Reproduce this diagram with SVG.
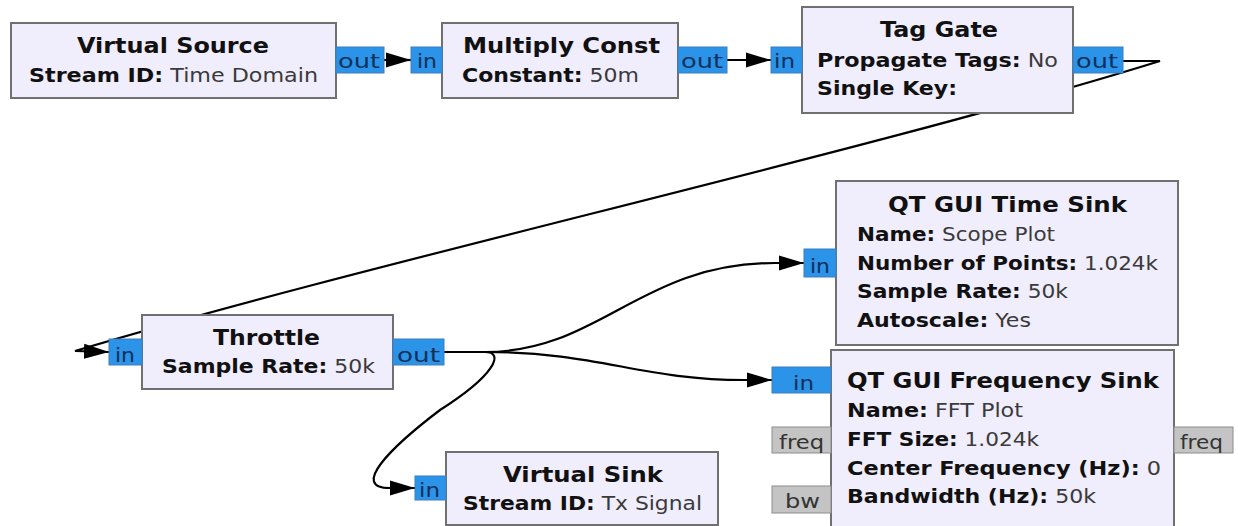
<svg xmlns="http://www.w3.org/2000/svg" width="1238" height="526" viewBox="0 0 1238 526">
<style>
.blk{fill:#f0edfc;stroke:#707070;stroke-width:2}
.port{fill:#2b93e8;stroke:#3d7fc4;stroke-width:1}
.gport{fill:#c4c4c4;stroke:#8c8c8c;stroke-width:1}
.t{font-family:"DejaVu Sans",sans-serif;font-weight:bold;font-size:21px;fill:#111}
.p{font-family:"DejaVu Sans",sans-serif;font-size:19px;fill:#3a3a3a}
.p .k{font-weight:bold;fill:#111}
.pl{font-family:"DejaVu Sans",sans-serif;font-size:20px;fill:#10305a}
.gl{font-family:"DejaVu Sans",sans-serif;font-size:20px;fill:#333}
.c{fill:none;stroke:#000;stroke-width:2.2;marker-end:url(#arr)}
</style>
<defs>
<marker id="arr" markerUnits="userSpaceOnUse" markerWidth="26" markerHeight="16" refX="25" refY="8" orient="auto" viewBox="0 0 26 16">
<path d="M0,0.5 L25,8 L0,15.5 z" fill="#000"/>
</marker>
</defs>
<rect width="1238" height="526" fill="#fff"/>
<g id="connectors">
<path class="c" d="M383,60 L411,60"/>
<path class="c" d="M727,60 L771,60"/>
<path class="c" d="M1123,61 L1160,61 C860,154 375,261 75,351 L109,352"/>
<path class="c" d="M444,352 L485,352 C600,352 640,263 775,263 L804,263"/>
<path class="c" d="M485,352 C600,352 640,380 745,380 L772,380"/>
<path class="c" d="M485,352 C505,352 495,375 440,410 C390,448 350,488 390,488 L415,488"/>
</g>
<g id="virtual_source">
<rect class="blk" x="11" y="23" width="325" height="75"/>
<text class="t" x="77" y="53" textLength="192" lengthAdjust="spacingAndGlyphs">Virtual Source</text>
<text class="p" x="29" y="82" textLength="289" lengthAdjust="spacingAndGlyphs"><tspan class="k">Stream ID:</tspan> Time Domain</text>
<rect class="port" x="336" y="47" width="48" height="26"/>
<text class="pl" x="338" y="68" textLength="42" lengthAdjust="spacingAndGlyphs">out</text>
</g>
<g id="multiply_const">
<rect class="blk" x="442" y="23" width="236" height="75"/>
<text class="t" x="463" y="53" textLength="197" lengthAdjust="spacingAndGlyphs">Multiply Const</text>
<text class="p" x="462" y="82" textLength="177" lengthAdjust="spacingAndGlyphs"><tspan class="k">Constant:</tspan> 50m</text>
<rect class="port" x="411" y="47" width="31" height="26"/>
<text class="pl" x="417" y="68" textLength="20" lengthAdjust="spacingAndGlyphs">in</text>
<rect class="port" x="678" y="47" width="49" height="26"/>
<text class="pl" x="681" y="68" textLength="42" lengthAdjust="spacingAndGlyphs">out</text>
</g>
<g id="tag_gate">
<rect class="blk" x="802" y="7" width="271" height="106"/>
<text class="t" x="880" y="37" textLength="118" lengthAdjust="spacingAndGlyphs">Tag Gate</text>
<text class="p" x="817" y="67" textLength="241" lengthAdjust="spacingAndGlyphs"><tspan class="k">Propagate Tags:</tspan> No</text>
<text class="p" x="817" y="95" textLength="140" lengthAdjust="spacingAndGlyphs"><tspan class="k">Single Key:</tspan></text>
<rect class="port" x="771" y="47" width="31" height="26"/>
<text class="pl" x="774" y="68" textLength="21" lengthAdjust="spacingAndGlyphs">in</text>
<rect class="port" x="1073" y="47" width="50" height="26"/>
<text class="pl" x="1076" y="68" textLength="42" lengthAdjust="spacingAndGlyphs">out</text>
</g>
<g id="throttle">
<rect class="blk" x="142" y="315" width="251" height="74"/>
<text class="t" x="213" y="345" textLength="107" lengthAdjust="spacingAndGlyphs">Throttle</text>
<text class="p" x="162" y="373" textLength="213" lengthAdjust="spacingAndGlyphs"><tspan class="k">Sample Rate:</tspan> 50k</text>
<rect class="port" x="109" y="339" width="33" height="26"/>
<text class="pl" x="115" y="362" textLength="20" lengthAdjust="spacingAndGlyphs">in</text>
<rect class="port" x="393" y="339" width="51" height="26"/>
<text class="pl" x="397" y="362" textLength="43" lengthAdjust="spacingAndGlyphs">out</text>
</g>
<g id="qt_gui_time_sink">
<rect class="blk" x="836" y="181" width="342" height="164"/>
<text class="t" x="888" y="212" textLength="239" lengthAdjust="spacingAndGlyphs">QT GUI Time Sink</text>
<text class="p" x="857" y="241" textLength="198" lengthAdjust="spacingAndGlyphs"><tspan class="k">Name:</tspan> Scope Plot</text>
<text class="p" x="857" y="270" textLength="301" lengthAdjust="spacingAndGlyphs"><tspan class="k">Number of Points:</tspan> 1.024k</text>
<text class="p" x="857" y="298" textLength="211" lengthAdjust="spacingAndGlyphs"><tspan class="k">Sample Rate:</tspan> 50k</text>
<text class="p" x="857" y="327" textLength="174" lengthAdjust="spacingAndGlyphs"><tspan class="k">Autoscale:</tspan> Yes</text>
<rect class="port" x="804" y="249" width="32" height="28"/>
<text class="pl" x="810" y="273" textLength="20" lengthAdjust="spacingAndGlyphs">in</text>
</g>
<g id="qt_gui_frequency_sink">
<rect class="blk" x="831" y="350" width="343" height="190"/>
<text class="t" x="847" y="388" textLength="312" lengthAdjust="spacingAndGlyphs">QT GUI Frequency Sink</text>
<text class="p" x="847" y="417" textLength="176" lengthAdjust="spacingAndGlyphs"><tspan class="k">Name:</tspan> FFT Plot</text>
<text class="p" x="847" y="446" textLength="192" lengthAdjust="spacingAndGlyphs"><tspan class="k">FFT Size:</tspan> 1.024k</text>
<text class="p" x="847" y="475" textLength="314" lengthAdjust="spacingAndGlyphs"><tspan class="k">Center Frequency (Hz):</tspan> 0</text>
<text class="p" x="847" y="503" textLength="249" lengthAdjust="spacingAndGlyphs"><tspan class="k">Bandwidth (Hz):</tspan> 50k</text>
<rect class="port" x="772" y="367" width="59" height="26"/>
<text class="pl" x="793" y="390" textLength="21" lengthAdjust="spacingAndGlyphs">in</text>
<rect class="gport" x="772" y="427" width="59" height="26"/>
<text class="gl" x="779" y="449" textLength="45" lengthAdjust="spacingAndGlyphs">freq</text>
<rect class="gport" x="1174" y="427" width="59" height="26"/>
<text class="gl" x="1180" y="449" textLength="43" lengthAdjust="spacingAndGlyphs">freq</text>
<rect class="gport" x="772" y="486" width="59" height="27"/>
<text class="gl" x="785" y="508" textLength="35" lengthAdjust="spacingAndGlyphs">bw</text>
</g>
<g id="virtual_sink">
<rect class="blk" x="446" y="452" width="272" height="73"/>
<text class="t" x="503" y="482" textLength="160" lengthAdjust="spacingAndGlyphs">Virtual Sink</text>
<text class="p" x="463" y="510" textLength="239" lengthAdjust="spacingAndGlyphs"><tspan class="k">Stream ID:</tspan> Tx Signal</text>
<rect class="port" x="415" y="476" width="31" height="24"/>
<text class="pl" x="419" y="497" textLength="21" lengthAdjust="spacingAndGlyphs">in</text>
</g>
</svg>
